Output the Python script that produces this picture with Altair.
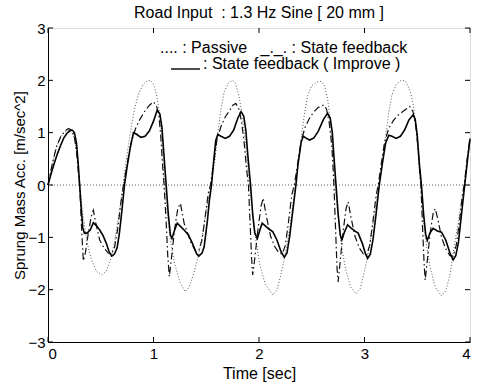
import altair as alt
import pandas as pd

# ---- data ----
t_passive = [0.00, 0.04, 0.08, 0.12, 0.16, 0.20, 0.23, 0.26, 0.28, 0.30, 0.33, 0.37, 0.41, 0.46, 0.51, 0.55, 0.59, 0.63, 0.67, 0.71,
             0.74, 0.78, 0.82, 0.86, 0.90, 0.94, 0.97, 1.00, 1.03, 1.055, 1.08, 1.105, 1.13, 1.16, 1.20, 1.25, 1.30, 1.34, 1.38, 1.42, 1.46, 1.50, 1.545,
             1.58, 1.61, 1.64, 1.67, 1.71, 1.75, 1.78, 1.81, 1.84, 1.87, 1.895, 1.91, 1.94, 1.97, 2.01, 2.06, 2.13, 2.17, 2.21, 2.25, 2.29, 2.32, 2.345,
             2.37, 2.40, 2.43, 2.46, 2.50, 2.55, 2.59, 2.62, 2.65, 2.675, 2.70, 2.72, 2.75, 2.78, 2.82, 2.87, 2.92, 2.96, 3.00, 3.04, 3.08, 3.11, 3.14,
             3.17, 3.20, 3.23, 3.26, 3.30, 3.34, 3.38, 3.41, 3.44, 3.46, 3.49, 3.51, 3.53, 3.55, 3.58, 3.62, 3.67, 3.73, 3.77, 3.81, 3.85, 3.89, 3.92, 3.95, 3.98, 4.00]
y_passive = [0.00, 0.40, 0.72, 0.92, 1.02, 1.05, 1.00, 0.80, 0.45, 0.00, -0.55, -1.10, -1.42, -1.65, -1.72, -1.65, -1.45, -1.10, -0.60, -0.05,
             0.45, 1.00, 1.45, 1.75, 1.92, 1.99, 2.00, 1.93, 1.72, 1.40, 0.90, 0.00, -0.55, -1.05, -1.50, -1.85, -2.04, -1.95, -1.70, -1.40, -1.00, -0.50, 0.00,
             0.45, 1.00, 1.45, 1.78, 1.95, 2.00, 1.93, 1.70, 1.35, 0.85, 0.30, 0.00, -0.55, -1.05, -1.55, -1.90, -2.10, -2.00, -1.70, -1.30, -0.85, -0.40, 0.00,
             0.40, 0.90, 1.35, 1.70, 1.90, 1.97, 1.98, 1.90, 1.65, 1.25, 0.60, 0.00, -0.60, -1.15, -1.60, -1.95, -2.08, -1.98, -1.65, -1.25, -0.75, -0.35, 0.00,
             0.42, 0.92, 1.38, 1.72, 1.92, 1.99, 2.00, 1.90, 1.75, 1.56, 1.11, 0.60, 0.00, -0.55, -1.05, -1.55, -1.95, -2.12, -2.02, -1.72, -1.18, -0.70, -0.30, 0.00, 0.50, 0.85]

t_state = [0.00, 0.04, 0.08, 0.12, 0.16, 0.195, 0.225, 0.25, 0.27, 0.29, 0.30, 0.32, 0.335, 0.35, 0.38, 0.41, 0.43, 0.45, 0.49, 0.53, 0.57, 0.60, 0.63, 0.66, 0.69, 0.715,
           0.75, 0.79, 0.83, 0.87, 0.92, 0.96, 1.00, 1.03, 1.05, 1.07, 1.085, 1.10, 1.12, 1.135, 1.15, 1.17, 1.20, 1.23, 1.255, 1.29, 1.35, 1.40, 1.43, 1.46, 1.49, 1.52, 1.54,
           1.57, 1.60, 1.64, 1.68, 1.72, 1.75, 1.78, 1.81, 1.835, 1.86, 1.88, 1.90, 1.915, 1.93, 1.94, 1.96, 1.99, 2.02, 2.04, 2.07, 2.11, 2.15, 2.19, 2.22, 2.25, 2.28, 2.31, 2.335,
           2.37, 2.40, 2.44, 2.48, 2.52, 2.56, 2.615, 2.64, 2.665, 2.69, 2.70, 2.71, 2.725, 2.74, 2.75, 2.77, 2.80, 2.825, 2.845, 2.87, 2.91, 2.95, 2.99, 3.02, 3.05, 3.08, 3.11, 3.13,
           3.16, 3.19, 3.23, 3.27, 3.31, 3.36, 3.43, 3.46, 3.485, 3.51, 3.525, 3.535, 3.55, 3.565, 3.575, 3.595, 3.62, 3.65, 3.67, 3.695, 3.73, 3.77, 3.81, 3.84, 3.87, 3.90, 3.93, 3.945, 3.97, 4.00]
y_state = [0.00, 0.40, 0.73, 0.92, 1.03, 1.08, 1.04, 0.92, 0.65, 0.20, 0.00, -0.90, -1.45, -1.35, -0.95, -0.60, -0.48, -0.70, -1.05, -1.20, -1.30, -1.32, -1.20, -0.85, -0.35, 0.00,
           0.40, 0.82, 1.08, 1.25, 1.42, 1.52, 1.59, 1.50, 1.35, 0.90, 0.40, 0.00, -0.70, -1.35, -1.75, -1.40, -0.85, -0.45, -0.35, -0.73, -1.08, -1.27, -1.25, -1.05, -0.60, -0.15, 0.00,
           0.42, 0.85, 1.12, 1.30, 1.42, 1.52, 1.56, 1.45, 1.20, 0.80, 0.35, 0.00, -0.70, -1.40, -1.72, -1.40, -0.85, -0.40, -0.25, -0.60, -0.98, -1.18, -1.30, -1.32, -1.15, -0.70, -0.20, 0.00,
           0.45, 0.85, 1.12, 1.28, 1.40, 1.48, 1.53, 1.45, 1.20, 0.75, 0.40, 0.00, -0.80, -1.60, -1.85, -1.45, -0.85, -0.45, -0.32, -0.60, -0.98, -1.20, -1.32, -1.34, -1.15, -0.70, -0.20, 0.00,
           0.42, 0.82, 1.08, 1.22, 1.32, 1.40, 1.50, 1.40, 1.15, 0.65, 0.20, 0.00, -0.80, -1.50, -1.82, -1.45, -0.95, -0.55, -0.45, -0.65, -1.00, -1.22, -1.35, -1.36, -1.15, -0.70, -0.15, 0.00, 0.45, 0.90]

t_improve = [0.00, 0.03, 0.06, 0.09, 0.12, 0.15, 0.18, 0.21, 0.23, 0.25, 0.27, 0.285, 0.30, 0.315, 0.33, 0.345, 0.37, 0.40, 0.43, 0.46, 0.49, 0.52, 0.55, 0.58, 0.605, 0.63, 0.655, 0.675, 0.70, 0.725,
             0.75, 0.78, 0.81, 0.84, 0.88, 0.92, 0.96, 1.00, 1.035, 1.06, 1.08, 1.10, 1.12, 1.14, 1.16, 1.175, 1.20, 1.225, 1.26, 1.29, 1.33, 1.37, 1.41, 1.43, 1.46, 1.48, 1.51, 1.53, 1.55,
             1.57, 1.59, 1.61, 1.64, 1.68, 1.72, 1.76, 1.80, 1.83, 1.855, 1.875, 1.895, 1.92, 1.94, 1.96, 1.985, 2.01, 2.03, 2.07, 2.10, 2.13, 2.17, 2.21, 2.24, 2.265, 2.29, 2.32, 2.35,
             2.37, 2.40, 2.42, 2.45, 2.48, 2.52, 2.56, 2.61, 2.65, 2.675, 2.695, 2.71, 2.73, 2.75, 2.77, 2.785, 2.81, 2.84, 2.87, 2.91, 2.94, 2.98, 3.01, 3.03, 3.055, 3.08, 3.11, 3.14,
             3.17, 3.20, 3.23, 3.26, 3.30, 3.34, 3.38, 3.42, 3.46, 3.48, 3.50, 3.52, 3.54, 3.56, 3.58, 3.595, 3.62, 3.65, 3.69, 3.73, 3.77, 3.81, 3.84, 3.865, 3.89, 3.92, 3.95, 3.98, 4.00]
y_improve = [0.00, 0.22, 0.42, 0.60, 0.76, 0.90, 0.99, 1.04, 1.05, 1.00, 0.80, 0.45, 0.00, -0.45, -0.82, -0.92, -0.92, -0.86, -0.72, -0.78, -0.86, -0.96, -1.10, -1.28, -1.36, -1.32, -1.20, -0.95, -0.50, 0.00,
             0.35, 0.72, 1.00, 0.97, 0.91, 0.93, 1.03, 1.22, 1.43, 1.36, 1.10, 0.55, 0.00, -0.55, -0.95, -1.02, -0.86, -0.73, -0.80, -0.86, -0.95, -1.12, -1.32, -1.36, -1.30, -1.18, -0.70, -0.29, 0.00,
             0.45, 0.85, 0.97, 0.93, 0.89, 0.93, 1.05, 1.28, 1.40, 1.32, 1.05, 0.55, 0.00, -0.55, -0.92, -1.02, -0.85, -0.73, -0.80, -0.85, -0.89, -1.05, -1.28, -1.38, -1.30, -0.99, -0.50, 0.00,
             0.40, 0.82, 0.93, 0.89, 0.86, 0.90, 1.02, 1.25, 1.37, 1.28, 1.00, 0.55, 0.00, -0.55, -0.95, -1.05, -0.90, -0.76, -0.82, -0.88, -0.92, -1.12, -1.32, -1.40, -1.32, -1.05, -0.55, 0.00,
             0.42, 0.80, 0.95, 0.93, 0.89, 0.93, 1.05, 1.24, 1.34, 1.26, 0.95, 0.40, 0.00, -0.55, -0.95, -1.06, -0.92, -0.83, -0.88, -0.90, -1.05, -1.30, -1.43, -1.35, -1.10, -0.55, 0.00, 0.55, 0.88]

x_ticks = [0, 1, 2, 3, 4]
y_ticks = [-3, -2, -1, 0, 1, 2, 3]

NB = "\u00a0"
title_text = "Road Input" + NB + NB + ": 1.3 Hz Sine [ 20 mm ]"
legend_line1 = ".... : Passive" + NB * 3 + "_._. : State feedback"
legend_line2 = ": State feedback ( Improve )"

FONT = "Liberation Sans"
W, H = 422, 314

xs = alt.Scale(domain=[0, 4], nice=False)
ys = alt.Scale(domain=[-3, 3], nice=False)

df_p = pd.DataFrame({"t": t_passive, "y": y_passive})
df_s = pd.DataFrame({"t": t_state, "y": y_state})
df_i = pd.DataFrame({"t": t_improve, "y": y_improve})

common_axis = dict(grid=False, ticks=False, domainColor="black", domainWidth=1,
                   labelFont=FONT, labelFontSize=15, labelColor="black", format="d",
                   titleFont=FONT, titleFontWeight="normal", titleColor="black")

x_enc = alt.X("t:Q", scale=xs, axis=alt.Axis(values=x_ticks, title="Time [sec]", titleX=W / 2, titleY=31,
                                              titleBaseline="middle", titleFontSize=16, labelPadding=4, **common_axis))
y_enc = alt.Y("y:Q", scale=ys, axis=alt.Axis(values=y_ticks, title="Sprung Mass Acc. [m/sec^2]", titleX=-29, titleY=H / 2,
                                              titleAngle=270, titleAlign="center", titleBaseline="middle",
                                              titleFontSize=15, labelPadding=3, **common_axis))

zero = alt.Chart(pd.DataFrame({"z": [0]})).mark_rule(color="#333", strokeDash=[1, 2], strokeWidth=0.8).encode(
    y=alt.Y("z:Q", scale=ys), x=alt.value(0), x2=alt.value(W))

passive = alt.Chart(df_p).mark_line(color="#444", strokeDash=[1, 2], strokeWidth=0.9).encode(x=x_enc, y=y_enc)
state = alt.Chart(df_s).mark_line(color="#111", strokeDash=[7, 3, 1.5, 3], strokeWidth=1.2).encode(
    x=alt.X("t:Q", scale=xs), y=alt.Y("y:Q", scale=ys))
improve = alt.Chart(df_i).mark_line(color="#000", strokeWidth=1.6).encode(
    x=alt.X("t:Q", scale=xs), y=alt.Y("y:Q", scale=ys))

xt = pd.DataFrame({"v": x_ticks})
yt = pd.DataFrame({"v": y_ticks})
tick_b = alt.Chart(xt).mark_rule(color="black").encode(x=alt.X("v:Q", scale=xs), y=alt.value(H), y2=alt.value(H - 5))
tick_t = alt.Chart(xt).mark_rule(color="black").encode(x=alt.X("v:Q", scale=xs), y=alt.value(0), y2=alt.value(5))
tick_l = alt.Chart(yt).mark_rule(color="black").encode(y=alt.Y("v:Q", scale=ys), x=alt.value(0), x2=alt.value(5))
tick_r = alt.Chart(yt).mark_rule(color="black").encode(y=alt.Y("v:Q", scale=ys), x=alt.value(W), x2=alt.value(W - 5))

def text_layer(s, x, y, align="left"):
    return alt.Chart(pd.DataFrame({"s": [s]})).mark_text(
        align=align, baseline="middle", font=FONT, fontSize=16, color="black").encode(
        text="s:N", x=alt.value(x), y=alt.value(y))

title_mark = text_layer(title_text, W / 2, -15, align="center")
leg1 = text_layer(legend_line1, 112, 20)
leg2 = text_layer(legend_line2, 155, 36)
leg2_line = alt.Chart(pd.DataFrame({"s": [legend_line2]})).mark_rule(color="black", strokeWidth=1.4).encode(
    x=alt.value(123), x2=alt.value(152), y=alt.value(41))

chart = alt.layer(passive, zero, state, improve, tick_b, tick_t, tick_l, tick_r,
                  title_mark, leg1, leg2, leg2_line).properties(
    width=W, height=H,
    padding={"left": 48, "top": 28, "right": 8, "bottom": 46},
    autosize="none",
).configure_view(stroke="black", strokeWidth=1).configure(background="white")

chart.save("out.html", embed_options={"renderer": "svg", "actions": False})
